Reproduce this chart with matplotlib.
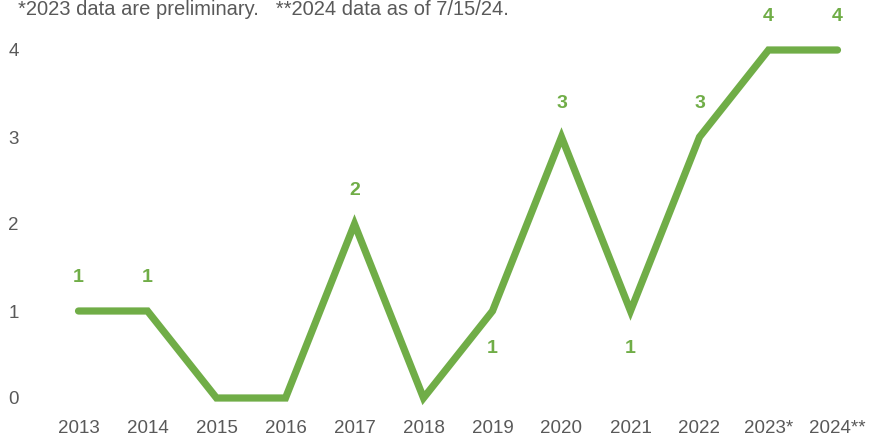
import matplotlib as mpl
import matplotlib.pyplot as plt

years = ["2013", "2014", "2015", "2016", "2017", "2018", "2019", "2020",
         "2021", "2022", "2023*", "2024**"]
counts = [1, 1, 0, 0, 2, 0, 1, 3, 1, 3, 4, 4]
# where the value label sits: 1 above, -1 below, 0 none
label_side = [1, 1, 0, 0, 1, 0, -1, 1, -1, 1, 1, 1]

GREEN = "#70AD47"
GRAY = "#595959"

mpl.rcParams['font.family'] = ['Liberation Sans', 'DejaVu Sans']

fig = plt.figure(figsize=(8.7, 4.43), dpi=100)
ax = fig.add_axes([44 / 870, 1 - 419.75 / 443, 826 / 870, (419.75 - 28.25) / 443])

x = list(range(len(years)))
ax.plot(x, counts, color=GREEN, linewidth=5.2, solid_capstyle="round",
        solid_joinstyle="miter")

for xi, v, side in zip(x, counts, label_side):
    if side == 0:
        continue
    off = 24 if side > 0 else -27
    ax.annotate(str(v), (xi, v), xytext=(0, off), textcoords="offset points",
                ha="center", va="center", color=GREEN, fontsize=14,
                fontweight="bold", annotation_clip=False)

ax.set_xlim(-0.5, -0.5 + 826 / 69)
ax.set_ylim(-0.25, 4.25)
ax.set_xticks(x)
ax.set_xticklabels(years)
ax.set_yticks([0, 1, 2, 3, 4])
ax.tick_params(length=0, labelsize=13.5, labelcolor=GRAY)
ax.tick_params(axis="x", pad=0)
ax.tick_params(axis="y", pad=18)
for s in ax.spines.values():
    s.set_visible(False)

fig.text(18 / 870, 1.0, "*2023 data are preliminary.   **2024 data as of 7/15/24.",
         ha="left", va="top", fontsize=14.5, color=GRAY)

plt.savefig("out.png", dpi=100)
